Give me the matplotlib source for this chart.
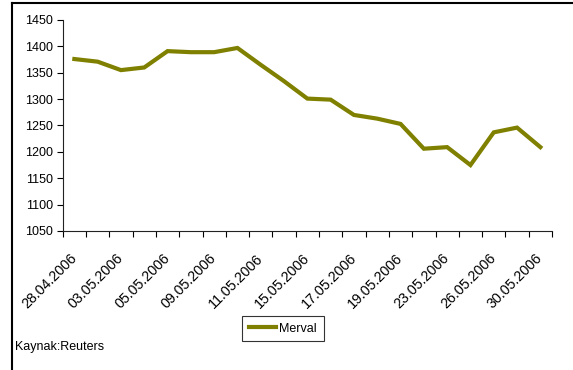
import matplotlib
matplotlib.use("Agg")
import matplotlib.pyplot as plt
from matplotlib.lines import Line2D
import numpy as np

plt.rcParams['font.family'] = ['Liberation Sans', 'DejaVu Sans']

# Merval endeksi, 28.04.2006 - 30.05.2006 (işlem günleri)
dates = ['28.04.2006', '02.05.2006', '03.05.2006', '04.05.2006', '05.05.2006',
         '08.05.2006', '09.05.2006', '10.05.2006', '11.05.2006', '12.05.2006',
         '15.05.2006', '16.05.2006', '17.05.2006', '18.05.2006', '19.05.2006',
         '22.05.2006', '23.05.2006', '24.05.2006', '26.05.2006', '29.05.2006',
         '30.05.2006']
merval = [1376, 1371, 1355, 1360, 1391, 1389, 1389, 1397, 1365, 1334,
          1301, 1299, 1270, 1263, 1253, 1206, 1209, 1175, 1237, 1246, 1209]
yticks = [1050, 1100, 1150, 1200, 1250, 1300, 1350, 1400, 1450]

W, H = 573, 370
fig = plt.figure(figsize=(W / 100, H / 100), dpi=100)
ax = fig.add_axes([62.7 / W, 1 - 231 / H, 489.3 / W, 211 / H])

x = np.arange(len(dates))
ax.plot(x, merval, color='#808000', linewidth=3.0, label='Merval',
        solid_joinstyle='miter')

ax.set_xlim(-0.5, len(dates) - 0.5)
ax.set_ylim(1050, 1450)
ax.set_yticks(yticks)
ax.tick_params(axis='y', direction='out', length=4, width=0.8, pad=3,
               labelsize=9)

# etiketler her iki günde bir, çentikler kategori sınırlarında
ax.set_xticks(x[::2])
ax.set_xticklabels(dates[::2])
ax.set_xticks(np.arange(-0.5, len(dates), 1), minor=True)
ax.tick_params(axis='x', which='major', length=0, pad=18, labelsize=10.3)
ax.tick_params(axis='x', which='minor', direction='out', length=4, width=0.8)
plt.setp(ax.get_xticklabels(), rotation=45, ha='right', va='center',
         rotation_mode='anchor')

for s in ['top', 'right']:
    ax.spines[s].set_visible(False)
for s in ['left', 'bottom']:
    ax.spines[s].set_linewidth(0.8)
    ax.spines[s].set_color('#222222')

leg = fig.legend(loc='center', bbox_to_anchor=(283 / W, 1 - 328.5 / H),
                 fontsize=9, frameon=True, fancybox=False, handlelength=2.2,
                 handletextpad=0.25, borderpad=0.55, borderaxespad=0)
leg.get_frame().set_edgecolor('black')
leg.get_frame().set_linewidth(0.8)

fig.text(15 / W, 1 - 347 / H, 'Kaynak:Reuters', fontsize=9, va='center',
         ha='left')

# dış çerçeve (sol ve üst kenar)
fig.add_artist(Line2D([12 / W, 12 / W], [0, 1 - 3 / H], color='black',
                      linewidth=1.5, transform=fig.transFigure))
fig.add_artist(Line2D([12 / W, 1], [1 - 3 / H, 1 - 3 / H], color='black',
                      linewidth=1.5, transform=fig.transFigure))

fig.savefig('out.png', dpi=100)
